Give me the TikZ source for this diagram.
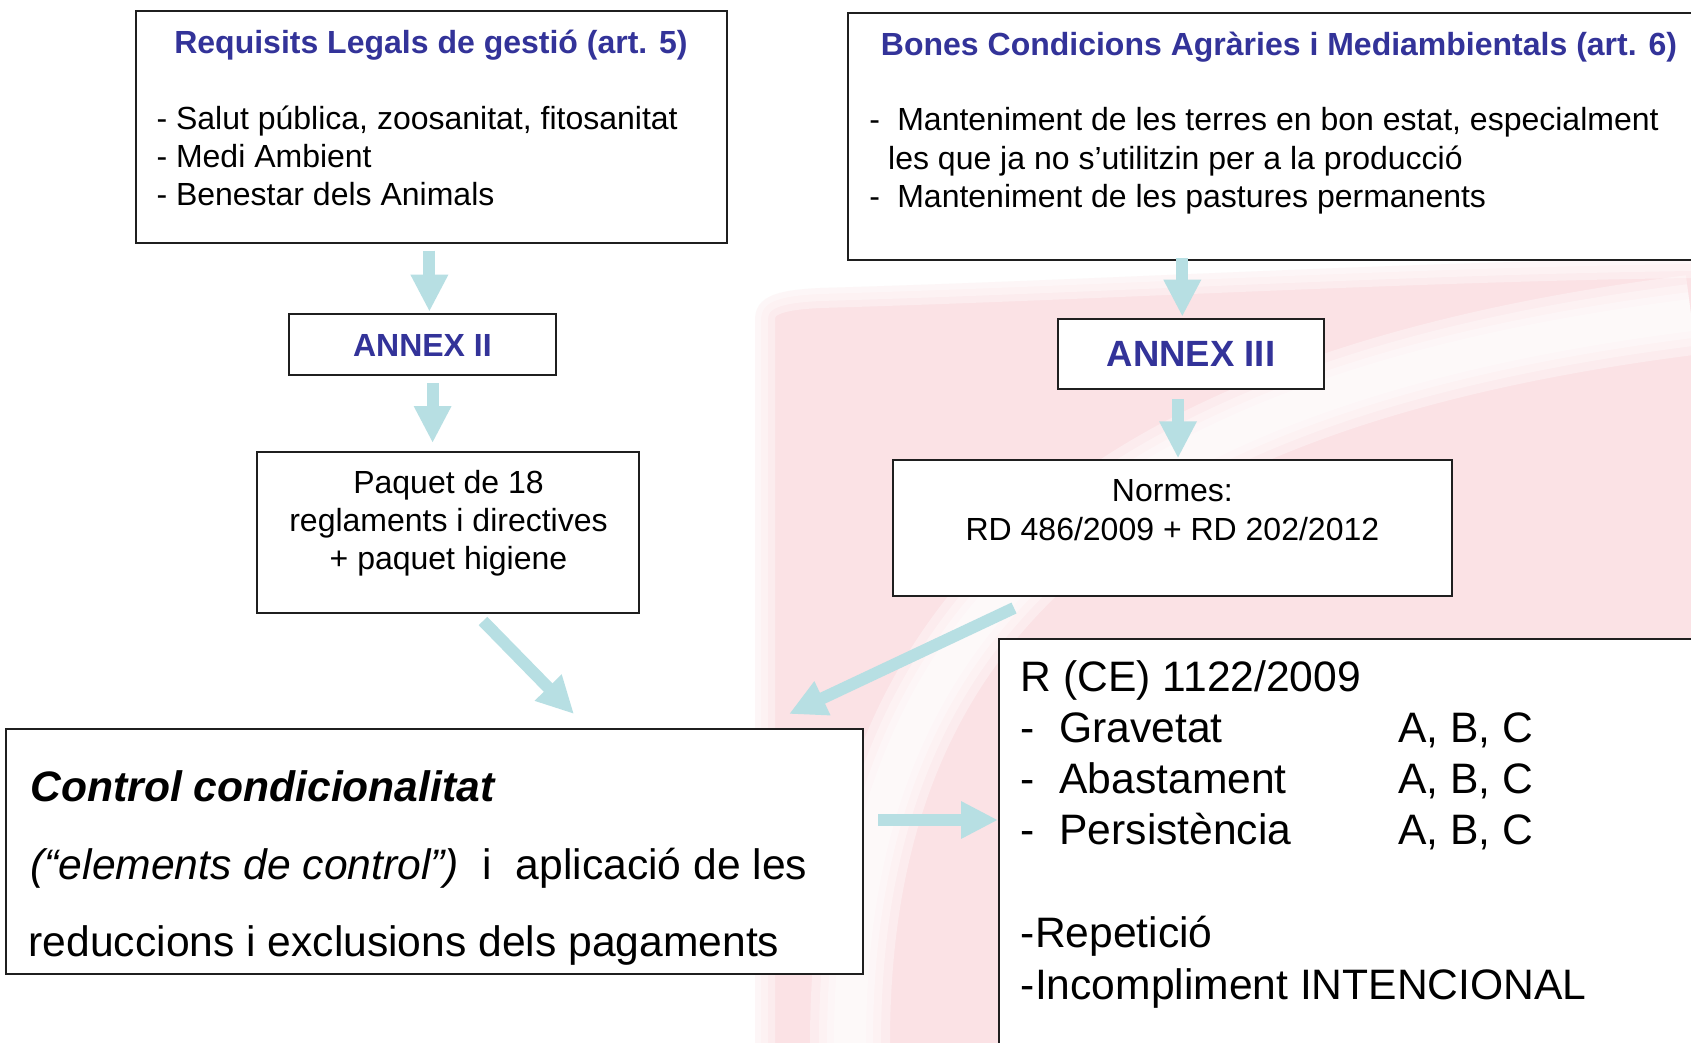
\documentclass[tikz,border=0pt]{standalone}
\usepackage{fontspec}
\setmainfont{Liberation Sans}
\usetikzlibrary{arrows.meta,calc}
\definecolor{ttl}{HTML}{333399}
\definecolor{arw}{HTML}{B7DFE3}
\definecolor{wm}{HTML}{FAD9DD}
\tikzset{
  box/.style={draw=black!88, line width=2pt, fill=white, inner sep=0pt, outer sep=0pt},
  blk/.style={draw=arw, line width=12pt, -{Triangle[width=35pt,length=37pt]}},
  txt/.style={inner sep=0pt, outer sep=0pt, text=black},
  fA/.style={font=\fontsize{32}{38}\selectfont},
  fT/.style={font=\fontsize{32}{38}\selectfont\bfseries, text=ttl},
  fX/.style={font=\fontsize{36.5}{42}\selectfont\bfseries, text=ttl},
  fB/.style={font=\fontsize{42.6}{51}\selectfont},
  soft/.style={white, line width=#1, opacity=0.35},
}
\begin{document}
\begin{tikzpicture}[x=1pt,y=-1pt]
\useasboundingbox (0,0) rectangle (1691,1043);
\clip (0,0) rectangle (1691,1043);
\fill[white] (0,0) rectangle (1691,1043);
% faint watermark
\fill[wm!75] (755,1043) -- (755,320) .. controls (755,295) and (780,290) .. (820,288)
  .. controls (1100,280) and (1400,262) .. (1691,258) -- (1691,1043) -- cycle;
\foreach \w in {40,26,12}{
  \draw[soft=\w pt] (755,1043) -- (755,320) .. controls (755,295) and (780,290) .. (820,288)
    .. controls (1100,280) and (1400,262) .. (1691,258);
}
\foreach \w in {80,62,46,32}{
  \draw[soft=\w pt] (850,1043) .. controls (850,620) and (1100,390) .. (1691,315);
}
% boxes
\node[box, minimum width=590.7pt, minimum height=232pt] (b1) at (431.25,126.7) {};
\node[box, minimum width=266.2pt, minimum height=61pt] (a2) at (422.4,344.2) {};
\node[box, minimum width=381.7pt, minimum height=161.3pt] (p) at (448.15,532.35) {};
\node[box, minimum width=856.6pt, minimum height=245pt] (ctrl) at (434.7,851.8) {};
\node[box, minimum width=852.3pt, minimum height=246.7pt] (b2) at (1273.85,136.65) {};
\node[box, minimum width=265.5pt, minimum height=69.7pt] (a3) at (1190.95,354.15) {};
\node[box, minimum width=558.8pt, minimum height=135.8pt] (n) at (1172.4,527.6) {};
\node[box, minimum width=701.3pt, minimum height=421.5pt] (r) at (1349.35,849.25) {};
% texts box 1
\node[txt, fT, anchor=base] (t1) at (431,54) {Requisits Legals de gestió (art. 5)};
\node[txt, fA, anchor=base west] (t1a) at (156.5,129.3) {- Salut pública, zoosanitat, fitosanitat};
\node[txt, fA, anchor=base west] (t1b) at (156.5,167.7) {- Medi Ambient};
\node[txt, fA, anchor=base west] (t1c) at (156.5,205) {- Benestar dels Animals};
% box 2
\node[txt, fT, anchor=base] (t2) at (1279,56) {Bones Condicions Agràries i Mediambientals (art. 6)};
\node[txt, fA, anchor=base west] (t2d1) at (869.3,131) {-};
\node[txt, fA, anchor=base west] (t2a) at (897.3,131) {Manteniment de les terres en bon estat, especialment};
\node[txt, fA, anchor=base west] (t2b) at (888.2,170) {les que ja no s’utilitzin per a la producció};
\node[txt, fA, anchor=base west] (t2d2) at (869.3,207.3) {-};
\node[txt, fA, anchor=base west] (t2c) at (897.3,207.3) {Manteniment de les pastures permanents};
% annexes
\node[txt, fT, anchor=base] (ta2) at (422.4,356) {ANNEX II};
\node[txt, fX, anchor=base] (ta3) at (1191,366) {ANNEX III};
% paquet
\node[txt, fA, anchor=base] (tp1) at (448.5,493.5) {Paquet de 18};
\node[txt, fA, anchor=base] (tp2) at (448.5,531.5) {reglaments i directives};
\node[txt, fA, anchor=base] (tp3) at (448.5,569.5) {+ paquet higiene};
% normes
\node[txt, fA, anchor=base] (tn1) at (1172.4,501) {Normes:};
\node[txt, fA, anchor=base] (tn2) at (1172.4,540) {RD 486/2009 + RD 202/2012};
% control
\node[txt, fB, anchor=base west] (tc1) at (30.5,801) {\bfseries\itshape Control condicionalitat};
\node[txt, fB, anchor=base west] (tc2) at (30.5,879) {\itshape (“elements de control”)\upshape\ \ i\ \ aplicació de les};
\node[txt, fB, anchor=base west] (tc3) at (28.7,956) {reduccions i exclusions dels pagaments};
% R (CE)
\node[txt, fB, anchor=base west] (tr0) at (1020.8,691) {R (CE) 1122/2009};
\node[txt, fB, anchor=base west] (tr1d) at (1020.8,742.5) {-};
\node[txt, fB, anchor=base west] (tr1) at (1059.4,742.5) {Gravetat};
\node[txt, fB, anchor=base west] (tr1v) at (1398,742.5) {A, B, C};
\node[txt, fB, anchor=base west] (tr2d) at (1020.8,793.5) {-};
\node[txt, fB, anchor=base west] (tr2) at (1059.4,793.5) {Abastament};
\node[txt, fB, anchor=base west] (tr2v) at (1398,793.5) {A, B, C};
\node[txt, fB, anchor=base west] (tr3d) at (1020.8,844.3) {-};
\node[txt, fB, anchor=base west] (tr3) at (1059.4,844.3) {Persistència};
\node[txt, fB, anchor=base west] (tr3v) at (1398,844.3) {A, B, C};
\node[txt, fB, anchor=base west] (tr4) at (1020.8,947) {-Repetició};
\node[txt, fB, anchor=base west] (tr5) at (1020.8,999) {-Incompliment INTENCIONAL};
% arrows
\draw[blk] ($(b1.south)+(-1.85,8)$) -- ($(a2.north)+(7,-2)$);
\draw[blk] ($(a2.south)+(10.2,8.6)$) -- ($(p.north)+(-15.55,-8.7)$);
\draw[blk] ($(p.south)+(34.85,8)$) -- ($(ctrl.north)+(139.3,-15.3)$);
\draw[blk] ($(ctrl.east)+(15,-31.8)$) -- ($(r.west)+(-0.7,-29.25)$);
\draw[blk] ($(b2.south)+(-91.55,-2)$) -- ($(a3.north)+(-8.65,-2.6)$);
\draw[blk] ($(a3.south)+(-12.95,10)$) -- ($(n.north)+(5.6,-1.4)$);
\draw[blk] ($(n.south)+(-158.4,12.5)$) -- ($(ctrl.north)+(354.3,-15.3)$);
\end{tikzpicture}
\end{document}
